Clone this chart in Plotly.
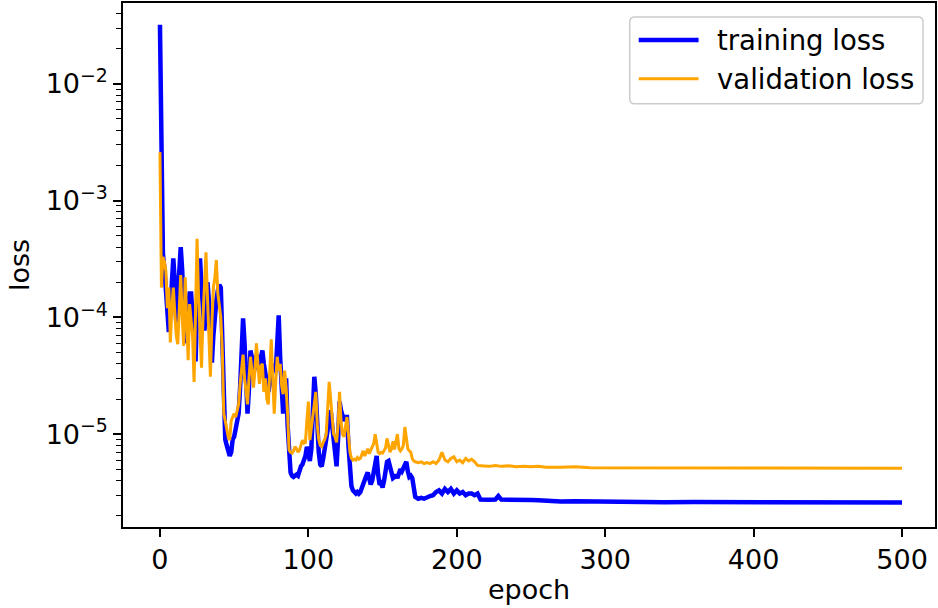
import plotly.graph_objects as go

# ---- training history -------------------------------------------------------
# epochs 0..172 are logged every epoch, later epochs are sampled more sparsely
dense_epochs = list(range(0, 173))

train_tail_epochs = [174, 176, 178, 180, 182, 184, 186, 188, 190, 192, 194, 196,
                     198, 200, 202, 204, 206, 208, 210, 212, 214, 216, 218, 222,
                     226, 228, 230, 235, 240, 245, 250, 255, 258, 262, 270, 280,
                     290, 300, 320, 340, 360, 380, 400, 420, 440, 460, 480, 500]

train_loss = [
    3.2e-2, 1.5e-3, 3.5e-4, 2.6e-4, 1.5e-4, 1.0e-4, 7.5e-5, 1.2e-4, 2.5e-4, 3.2e-4,
    2.0e-4, 9.0e-5, 1.5e-4, 3.0e-4, 4.0e-4, 2.5e-4, 1.0e-4, 6.0e-5, 9.0e-5, 1.2e-4,
    1.6e-4, 1.6e-4, 1.0e-4, 7.0e-5, 4.2e-5, 1.2e-4, 2.5e-4, 3.2e-4, 1.8e-4, 1.1e-4,
    7.7e-5, 1.4e-4, 2.0e-4, 1.4e-4, 7.0e-5, 4.1e-5, 7.0e-5, 1.1e-4, 1.4e-4, 1.7e-4,
    1.9e-4, 1.8e-4, 5.0e-5, 1.3e-5, 9.0e-6, 8.0e-6, 7.0e-6, 6.5e-6, 7.0e-6, 9.0e-6,
    9.5e-6, 1.1e-5, 1.2e-5, 1.5e-5, 2.5e-5, 6.0e-5, 9.8e-5, 6.0e-5, 2.1e-5, 1.5e-5,
    2.5e-5, 5.2e-5, 4.5e-5, 3.3e-5, 3.8e-5, 4.6e-5, 4.6e-5, 3.5e-5, 4.5e-5, 5.2e-5,
    4.0e-5, 3.3e-5, 2.5e-5, 2.3e-5, 2.7e-5, 3.0e-5, 3.5e-5, 4.0e-5, 3.4e-5, 5.5e-5,
    1.04e-4, 4.5e-5, 2.3e-5, 1.5e-5, 2.2e-5, 3.0e-5, 1.2e-5, 6.5e-6, 4.7e-6, 4.4e-6,
    4.3e-6, 4.4e-6, 4.5e-6, 4.4e-6, 4.9e-6, 5.3e-6, 5.5e-6, 5.9e-6, 6.5e-6, 7.8e-6,
    6.5e-6, 5.9e-6, 7.5e-6, 1.5e-5, 3.1e-5, 2.2e-5, 1.1e-5, 7.0e-6, 5.5e-6, 5.3e-6,
    6.2e-6, 7.2e-6, 9.0e-6, 1.1e-5, 1.3e-5, 1.6e-5, 1.2e-5, 8.9e-6, 6.5e-6, 5.3e-6,
    9.0e-6, 1.9e-5, 1.6e-5, 1.4e-5, 1.3e-5, 1.4e-5, 1.4e-5, 8.0e-6, 5.0e-6, 3.6e-6,
    3.3e-6, 3.2e-6, 3.1e-6, 3.2e-6, 3.1e-6, 3.2e-6, 3.5e-6, 3.9e-6, 4.3e-6, 4.4e-6,
    4.7e-6, 4.2e-6, 3.7e-6, 4.0e-6, 4.6e-6, 5.5e-6, 6.5e-6, 4.5e-6, 3.7e-6, 3.8e-6,
    3.5e-6, 4.0e-6, 5.0e-6, 5.8e-6, 5.9e-6, 5.2e-6, 4.6e-6, 4.2e-6, 4.3e-6, 4.5e-6,
    4.2e-6, 4.6e-6, 5.0e-6, 4.8e-6, 5.1e-6, 5.5e-6, 5.8e-6, 4.8e-6, 4.3e-6, 4.4e-6,
    4.2e-6, 3.5e-6, 2.9e-6,
    # sparse tail
    2.8e-6, 2.85e-6, 2.8e-6, 2.9e-6, 2.95e-6, 3.0e-6, 3.2e-6, 3.3e-6, 3.1e-6, 3.4e-6,
    3.2e-6, 3.4e-6, 3.1e-6, 3.3e-6, 3.1e-6, 3.2e-6, 3.0e-6, 3.1e-6, 3.1e-6, 3.0e-6,
    3.1e-6, 2.75e-6, 2.73e-6, 2.74e-6, 2.76e-6, 2.95e-6, 2.75e-6, 2.73e-6, 2.74e-6,
    2.72e-6, 2.73e-6, 2.72e-6, 2.7e-6, 2.66e-6, 2.65e-6, 2.66e-6, 2.65e-6, 2.62e-6,
    2.62e-6, 2.61e-6, 2.62e-6, 2.61e-6, 2.61e-6, 2.6e-6, 2.61e-6, 2.6e-6, 2.6e-6, 2.6e-6,
]

val_tail_epochs = [174, 176, 178, 180, 182, 184, 186, 188, 190, 192, 194, 196, 198,
                   200, 202, 204, 206, 208, 210, 212, 214, 218, 222, 226, 230, 235,
                   240, 245, 250, 255, 260, 270, 280, 290, 300, 320, 340, 360, 380,
                   400, 420, 440, 460, 480, 500]

val_loss = [
    2.6e-3, 1.8e-4, 3.3e-4, 3.0e-4, 2.5e-4, 1.2e-4, 1.8e-4, 6.1e-5, 1.2e-4, 1.8e-4,
    1.1e-4, 7.0e-5, 5.9e-5, 1.3e-4, 2.3e-4, 1.0e-4, 5.7e-5, 2.2e-4, 1.1e-4, 4.3e-5,
    1.3e-4, 1.0e-4, 6.8e-5, 2.8e-5, 1.5e-4, 4.7e-4, 1.5e-4, 7.7e-5, 3.7e-5, 1.0e-4,
    2.0e-4, 3.6e-4, 1.5e-4, 6.0e-5, 3.1e-5, 9.0e-5, 1.8e-4, 2.2e-4, 3.1e-4, 1.6e-4,
    1.3e-4, 1.0e-4, 5.2e-5, 1.5e-5, 1.3e-5, 1.08e-5, 9.5e-6, 8.9e-6, 1.3e-5, 1.4e-5,
    1.5e-5, 1.4e-5, 1.6e-5, 1.8e-5, 2.7e-5, 3.5e-5, 4.8e-5, 3.0e-5, 2.3e-5, 1.8e-5,
    3.0e-5, 4.6e-5, 3.5e-5, 2.5e-5, 3.5e-5, 6.0e-5, 4.0e-5, 2.7e-5, 3.8e-5, 4.0e-5,
    2.3e-5, 3.0e-5, 2.0e-5, 1.8e-5, 3.5e-5, 6.5e-5, 3.0e-5, 1.5e-5, 2.8e-5, 4.6e-5,
    3.5e-5, 4.0e-5, 2.6e-5, 2.2e-5, 3.5e-5, 2.5e-5, 1.5e-5, 7.3e-6, 7.0e-6, 6.9e-6,
    7.2e-6, 7.8e-6, 7.5e-6, 7.0e-6, 7.3e-6, 8.2e-6, 8.9e-6, 8.4e-6, 8.5e-6, 1.3e-5,
    1.9e-5, 8.9e-6, 1.1e-5, 1.4e-5, 1.8e-5, 2.3e-5, 1.2e-5, 9.0e-6, 8.0e-6, 7.8e-6,
    8.5e-6, 9.0e-6, 1.0e-5, 1.6e-5, 2.8e-5, 2.0e-5, 1.3e-5, 1.0e-5, 9.5e-6, 8.5e-6,
    1.2e-5, 2.3e-5, 1.3e-5, 1.0e-5, 9.5e-6, 1.2e-5, 1.4e-5, 1.0e-5, 7.0e-6, 6.2e-6,
    6.0e-6, 6.1e-6, 6.0e-6, 6.3e-6, 6.1e-6, 6.2e-6, 6.8e-6, 7.2e-6, 6.5e-6, 7.0e-6,
    7.5e-6, 6.8e-6, 7.3e-6, 7.8e-6, 8.3e-6, 1.0e-5, 8.0e-6, 7.0e-6, 6.8e-6, 7.0e-6,
    6.9e-6, 7.2e-6, 7.6e-6, 9.2e-6, 8.0e-6, 7.0e-6, 7.5e-6, 8.7e-6, 7.4e-6, 8.5e-6,
    1.0e-5, 7.5e-6, 7.2e-6, 7.5e-6, 8.0e-6, 1.15e-5, 9.0e-6, 7.5e-6, 7.2e-6, 7.0e-6,
    6.2e-6, 5.9e-6, 5.8e-6,
    # sparse tail
    5.7e-6, 5.8e-6, 5.6e-6, 5.7e-6, 5.6e-6, 5.8e-6, 5.6e-6, 6.0e-6, 7.0e-6, 6.0e-6,
    5.8e-6, 6.2e-6, 6.4e-6, 5.8e-6, 6.0e-6, 5.7e-6, 6.2e-6, 5.9e-6, 6.1e-6, 5.8e-6,
    5.4e-6, 5.35e-6, 5.3e-6, 5.4e-6, 5.3e-6, 5.35e-6, 5.25e-6, 5.3e-6, 5.25e-6,
    5.3e-6, 5.2e-6, 5.2e-6, 5.25e-6, 5.15e-6, 5.15e-6, 5.12e-6, 5.14e-6, 5.1e-6,
    5.12e-6, 5.1e-6, 5.11e-6, 5.1e-6, 5.1e-6, 5.1e-6, 5.1e-6,
]

train_epochs = dense_epochs + train_tail_epochs
val_epochs = dense_epochs + val_tail_epochs

series_names = ["training loss", "validation loss"]
series_colors = ["#0000ff", "#ffa500"]
series_widths = [4.5, 3]

y_tick_vals = [1e-5, 1e-4, 1e-3, 1e-2]
y_tick_text = ["10<sup>\u22125</sup>", "10<sup>\u22124</sup>",
               "10<sup>\u22123</sup>", "10<sup>\u22122</sup>"]
# minor ticks at 2..9 within each decade
y_minor_vals = [m * 10.0 ** d for d in range(-6, -1) for m in range(2, 10)]
x_tick_vals = [0, 100, 200, 300, 400, 500]

FONT = "DejaVu Sans"

# plot-area geometry in pixels (used to place the legend box)
W, H = 938, 608
ML, MR, MT, MB = 123, 1, 2, 81
PW, PH = W - ML - MR, H - MT - MB


def px_to_paper(px, py):
    return (px - ML) / PW, (H - MB - py) / PH


fig = go.Figure()
fig.add_trace(go.Scatter(
    x=train_epochs, y=train_loss, mode="lines", name=series_names[0],
    line=dict(color=series_colors[0], width=series_widths[0]), showlegend=False,
))
fig.add_trace(go.Scatter(
    x=val_epochs, y=val_loss, mode="lines", name=series_names[1],
    line=dict(color=series_colors[1], width=series_widths[1]), showlegend=False,
))

axis_common = dict(
    showline=True, linecolor="black", linewidth=1.5, mirror=True,
    ticks="outside", ticklen=8, tickwidth=1.5, tickcolor="black",
    showgrid=False, zeroline=False,
    tickfont=dict(family=FONT, size=27, color="black"),
)

fig.update_xaxes(
    range=[-24.9, 522.2], tickvals=x_tick_vals,
    title=dict(text="epoch", font=dict(family=FONT, size=27, color="black"), standoff=6),
    **axis_common,
)
fig.update_yaxes(
    type="log", range=[-5.795, -1.308],
    tickvals=y_tick_vals, ticktext=y_tick_text,
    minor=dict(tickvals=y_minor_vals, ticks="outside", ticklen=5, tickwidth=1.2,
               tickcolor="black", showgrid=False),
    title=dict(text="loss", font=dict(family=FONT, size=27, color="black"), standoff=8),
    **axis_common,
)

# legend: rounded frame, line samples and labels
box_l, box_r, box_t, box_b, rad = 631, 925, 16, 103, 5
pts = [
    ("M", box_l + rad, box_t), ("L", box_r - rad, box_t), ("Q", box_r, box_t, box_r, box_t + rad),
    ("L", box_r, box_b - rad), ("Q", box_r, box_b, box_r - rad, box_b),
    ("L", box_l + rad, box_b), ("Q", box_l, box_b, box_l, box_b - rad),
    ("L", box_l, box_t + rad), ("Q", box_l, box_t, box_l + rad, box_t),
]
path = ""
for p in pts:
    cmd, coords = p[0], p[1:]
    xy = []
    for i in range(0, len(coords), 2):
        ux, uy = px_to_paper(coords[i], coords[i + 1])
        xy.append(f"{ux:.5f},{uy:.5f}")
    path += cmd + " " + " ".join(xy) + " "
path += "Z"
fig.add_shape(type="path", path=path, xref="paper", yref="paper",
              line=dict(color="#cccccc", width=1.5), fillcolor="rgba(255,255,255,0.8)")

row_y = [39, 78]
for name, color, width, ry in zip(series_names, series_colors, series_widths, row_y):
    x0, y0 = px_to_paper(640, ry)
    x1, _ = px_to_paper(700, ry)
    fig.add_shape(type="line", x0=x0, x1=x1, y0=y0, y1=y0, xref="paper", yref="paper",
                  line=dict(color=color, width=width))
    tx, ty = px_to_paper(716, ry)
    fig.add_annotation(x=tx, y=ty, xref="paper", yref="paper", text=name,
                       showarrow=False, xanchor="left", yanchor="middle",
                       font=dict(family=FONT, size=27.5, color="black"))

fig.update_layout(
    width=W, height=H,
    margin=dict(l=ML, r=MR, t=MT, b=MB),
    plot_bgcolor="white", paper_bgcolor="white",
    showlegend=False,
)

fig.write_html("out.html")
